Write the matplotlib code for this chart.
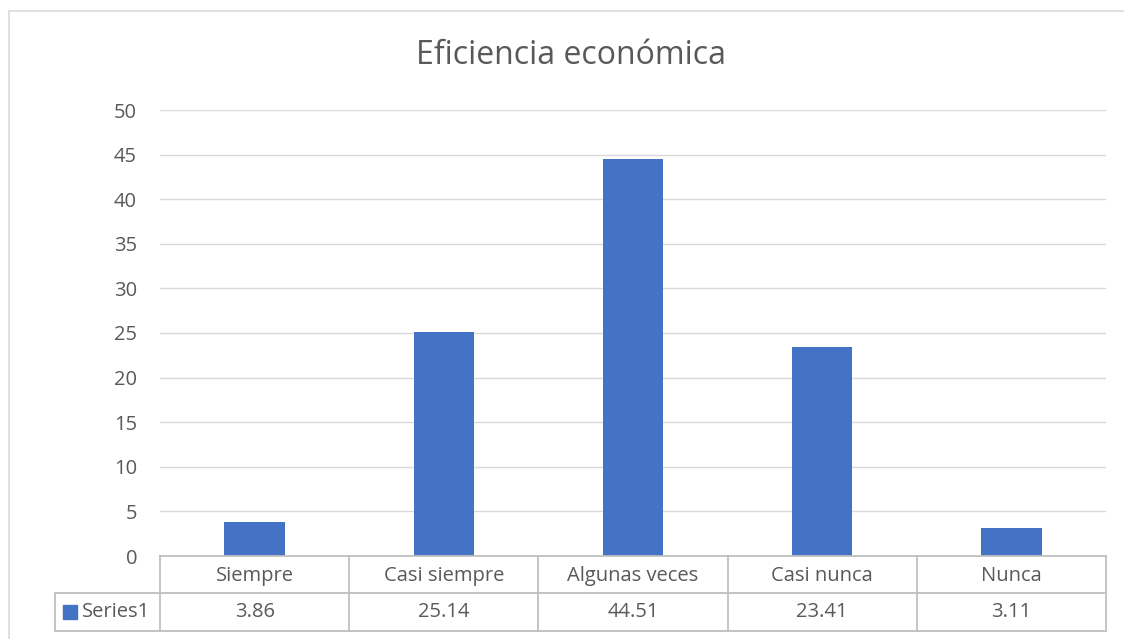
import matplotlib.pyplot as plt
from matplotlib.lines import Line2D
from matplotlib.patches import Rectangle
from matplotlib.transforms import blended_transform_factory

plt.rcParams['font.family'] = ['Open Sans', 'DejaVu Sans']

# Data
categories = ['Siempre', 'Casi siempre', 'Algunas veces', 'Casi nunca', 'Nunca']
values = [3.86, 25.14, 44.51, 23.41, 3.11]
series_name = 'Series1'
title = 'Eficiencia económica'

W, H = 1124, 639
bar_color = '#4472C4'
text_color = '#595959'
grid_color = '#D9D9D9'
table_color = '#BFBFBF'


def fy(py):
    # figure pixel row (from top) -> figure fraction
    return 1 - py / H


def fx(px):
    return px / W


fig = plt.figure(figsize=(W / 100, H / 100), dpi=100)

# outer chart frame (cut at right and bottom like the reference)
fig.add_artist(Rectangle((fx(9), fy(660)), fx(1140) - fx(9), fy(11) - fy(660),
                         transform=fig.transFigure, fill=False,
                         edgecolor=grid_color, linewidth=1.2))

ax = fig.add_axes([fx(160), fy(556), fx(1106) - fx(160), fy(110) - fy(556)])
x = list(range(len(categories)))
ax.bar(x, values, width=0.32, color=bar_color, zorder=3)
ax.set_xlim(-0.5, len(categories) - 0.5)
ax.set_ylim(0, 50)
ax.set_yticks(range(0, 51, 5))
ax.yaxis.grid(True, color=grid_color, linewidth=1.0)
ax.set_axisbelow(True)
for s in ax.spines.values():
    s.set_visible(False)
ax.tick_params(axis='y', length=0, pad=16.5, labelsize=14.5, labelcolor=text_color)
ax.set_xticks([])

fig.text(fx(571), fy(56), title, ha='center', va='center', fontsize=23, color=text_color)

# data table below the axis
tr = blended_transform_factory(ax.transData, fig.transFigure)
row_top, row_mid, row_bot = fy(556), fy(593), fy(631)
lw = 1.3
edges = [i - 0.5 for i in range(len(categories) + 1)]
fig.add_artist(Line2D([edges[0], edges[-1]], [row_top, row_top], transform=tr,
                      color=table_color, linewidth=lw))
for e in edges:
    fig.add_artist(Line2D([e, e], [row_top, row_bot], transform=tr,
                          color=table_color, linewidth=lw))
for yy in (row_mid, row_bot):
    fig.add_artist(Line2D([fx(55), fx(1106)], [yy, yy], transform=fig.transFigure,
                          color=table_color, linewidth=lw))
fig.add_artist(Line2D([fx(55), fx(55)], [row_mid, row_bot], transform=fig.transFigure,
                      color=table_color, linewidth=lw))

for i, (c, v) in enumerate(zip(categories, values)):
    fig.text(i, (row_top + row_mid) / 2 - 0.002, c, transform=tr, ha='center',
             va='center', fontsize=14.5, color=text_color)
    fig.text(i, (row_mid + row_bot) / 2, f'{v:.2f}', transform=tr, ha='center',
             va='center', fontsize=14.5, color=text_color)

# legend key in table
fig.add_artist(Rectangle((fx(63), fy(619)), fx(14), fy(605) - fy(619),
                         transform=fig.transFigure, color=bar_color))
fig.text(fx(82), (row_mid + row_bot) / 2, series_name, ha='left', va='center',
         fontsize=14.5, color=text_color)

fig.savefig('out.png', dpi=100)
